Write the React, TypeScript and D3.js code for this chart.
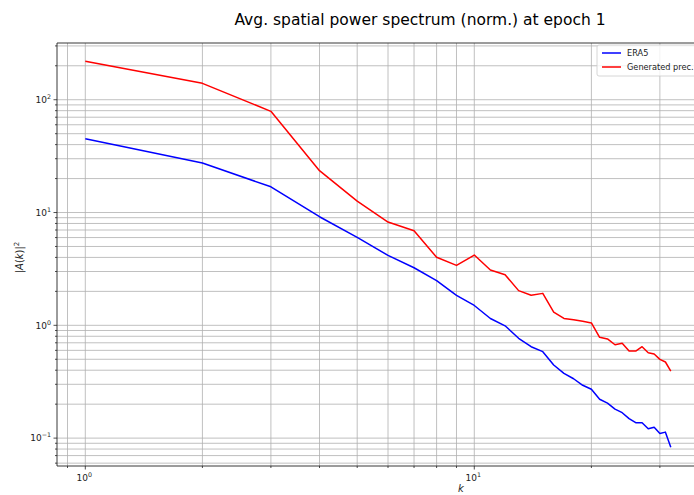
import React from "react";
import * as d3 from "d3";

const ks = Array.from({ length: 32 }, (_, i) => i + 1);

const era5 = [
  45.1, 27.5, 16.9, 9.18, 6.03, 4.17, 3.24, 2.49, 1.84, 1.5,
  1.15, 0.99, 0.767, 0.646, 0.584, 0.445, 0.375, 0.336, 0.294, 0.271,
  0.221, 0.204, 0.181, 0.168, 0.149, 0.137, 0.137, 0.121, 0.125, 0.11,
  0.113, 0.083,
];

const generated = [
  219, 139.8, 78.9, 23.5, 12.6, 8.24, 6.9, 4.01, 3.4, 4.2,
  3.09, 2.81, 2.03, 1.85, 1.92, 1.31, 1.15, 1.12, 1.085, 1.05,
  0.783, 0.757, 0.673, 0.692, 0.592, 0.592, 0.646, 0.572, 0.557, 0.499,
  0.473, 0.393,
];

const seriesNames = ["ERA5", "Generated prec."];
const seriesColors = ["#0000ff", "#ff0000"];
const xMajorTicks = [1, 10];
const xTickExp = ["0", "1"];
const yMajorTicks = [0.1, 1, 10, 100];
const yTickExp = ["\u22121", "0", "1", "2"];

const W = 694;
const H = 495;
const L = 57, R = 700, T = 43, B = 466;

export default function App() {
  const x = d3.scaleLog().domain([0.8457, 38.04]).range([L, R]);
  const y = d3.scaleLog().domain([0.0566, 318.4]).range([B, T]);

  const xMinor: number[] = [];
  for (const dec of [0.1, 1, 10]) for (let m = 2; m <= 9; m++) {
    const v = dec * m;
    if (v >= 0.8457 && v <= 38.04) xMinor.push(v);
  }
  const yMinor: number[] = [];
  for (const dec of [0.01, 0.1, 1, 10, 100]) for (let m = 2; m <= 9; m++) {
    const v = dec * m;
    if (v >= 0.0566 && v <= 318.4) yMinor.push(v);
  }

  const line = d3.line<number>().x((_, i) => x(ks[i])).y((d) => y(d));
  const series = [era5, generated];
  const grid = "#b0b0b0";
  const font = "DejaVu Sans, sans-serif";

  return (
    <svg width={W} height={H} style={{ position: "absolute", left: 0, top: 0 }} fontFamily={font}>
      <rect width={W} height={H} fill="#fff" />
      <defs>
        <clipPath id="plot"><rect x={L} y={T} width={R - L} height={B - T} /></clipPath>
      </defs>
      <text x={420} y={25} fontSize={15.5} textAnchor="middle" fill="#000">
        Avg. spatial power spectrum (norm.) at epoch 1
      </text>
      {/* grid */}
      <g stroke={grid} strokeWidth={0.8}>
        {[...xMajorTicks, ...xMinor].map((v, i) => (
          <line key={"gx" + i} x1={x(v)} x2={x(v)} y1={T} y2={B} />
        ))}
        {[...yMajorTicks, ...yMinor].map((v, i) => (
          <line key={"gy" + i} x1={L} x2={R} y1={y(v)} y2={y(v)} />
        ))}
      </g>
      {/* series */}
      <g clipPath="url(#plot)" fill="none" strokeWidth={1.5} strokeLinejoin="round">
        {series.map((s, i) => (
          <path key={i} d={line(s) || ""} stroke={seriesColors[i]} />
        ))}
      </g>
      {/* spines */}
      <g stroke="#222" strokeWidth={0.9} fill="none">
        <line x1={L} x2={R} y1={T} y2={T} />
        <line x1={L} x2={R} y1={B} y2={B} />
        <line x1={L} x2={L} y1={T} y2={B} />
      </g>
      {/* ticks */}
      <g stroke="#222" strokeWidth={0.8}>
        {xMajorTicks.map((v, i) => (
          <line key={"xt" + i} x1={x(v)} x2={x(v)} y1={B} y2={B + 3.5} />
        ))}
        {xMinor.map((v, i) => (
          <line key={"xm" + i} x1={x(v)} x2={x(v)} y1={B} y2={B + 2} />
        ))}
        {yMajorTicks.map((v, i) => (
          <line key={"yt" + i} x1={L - 3.5} x2={L} y1={y(v)} y2={y(v)} />
        ))}
        {yMinor.map((v, i) => (
          <line key={"ym" + i} x1={L - 2} x2={L} y1={y(v)} y2={y(v)} />
        ))}
      </g>
      {/* tick labels */}
      <g fontSize={9} fill="#222">
        {xMajorTicks.map((v, i) => (
          <text key={"xl" + i} x={x(v) - 1} y={B + 15} textAnchor="middle">
            10<tspan fontSize={6.3} dy={-4}>{xTickExp[i]}</tspan>
          </text>
        ))}
        {yMajorTicks.map((v, i) => (
          <text key={"yl" + i} x={L - 6} y={y(v) + 3.2} textAnchor="end">
            10<tspan fontSize={6.3} dy={-4}>{yTickExp[i]}</tspan>
          </text>
        ))}
      </g>
      {/* axis labels */}
      <text x={461} y={492} fontSize={10} fontStyle="italic" textAnchor="middle" fill="#222">k</text>
      <text transform={`translate(23,${(T + B) / 2 + 3}) rotate(-90)`} fontSize={10} textAnchor="middle" fill="#222">
        |<tspan fontStyle="italic">A</tspan>(<tspan fontStyle="italic">k</tspan>)|<tspan fontSize={7} dy={-4}>2</tspan>
      </text>
      {/* legend */}
      <g>
        <rect x={597} y={45} width={110} height={31} rx={2} fill="#fff" fillOpacity={0.8} stroke="#cccccc" strokeWidth={0.8} />
        {seriesNames.map((n, i) => (
          <g key={n}>
            <line x1={602} x2={621} y1={53 + i * 14} y2={53 + i * 14} stroke={seriesColors[i]} strokeWidth={1.5} />
            <text x={627} y={56 + i * 14} fontSize={8.2} fill="#222">{n}</text>
          </g>
        ))}
      </g>
    </svg>
  );
}
